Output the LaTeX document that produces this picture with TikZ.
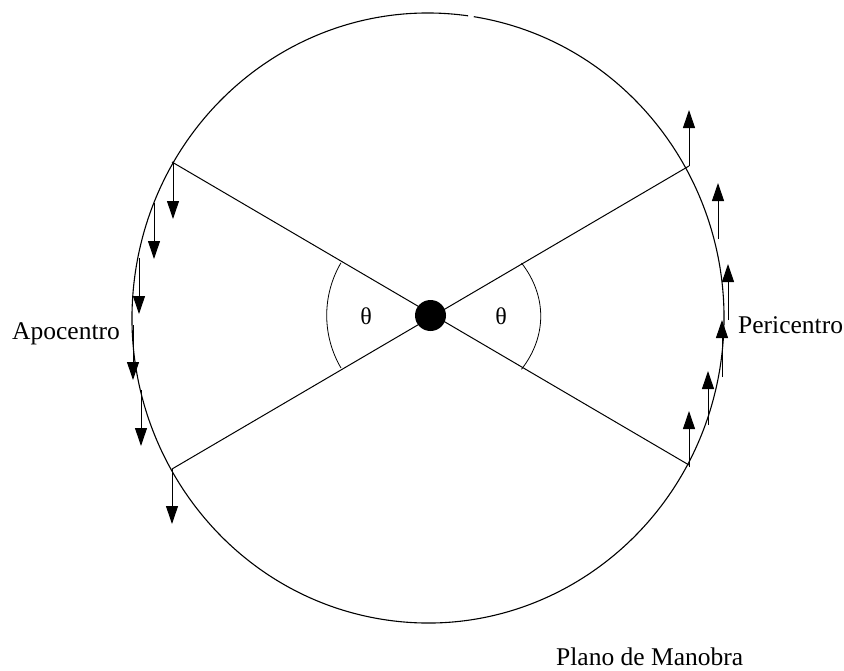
\documentclass[tikz,border=0pt]{standalone}
\usepackage{fontspec}
\setmainfont{Liberation Serif}
\usetikzlibrary{arrows.meta}
\tikzset{
  orbit/.style={line width=1.1pt},
  radial/.style={line width=1pt},
  anglearc/.style={line width=0.8pt},
  vel/.style={line width=1pt,-{Triangle[length=18pt,width=12pt]}},
  lbl/.style={font=\fontsize{25.5pt}{30pt}\selectfont,inner sep=0pt,anchor=base west},
  th/.style={font=\fontsize{24pt}{28pt}\selectfont,inner sep=0pt}
}
\begin{document}
\begin{tikzpicture}[x=1pt,y=-1pt]
\useasboundingbox (0,0) rectangle (844,670);
% orbit (small gap near top)
\draw[orbit] (428,318) ++(278.9:296 and 305) arc[start angle=278.9,end angle=637.8,x radius=296,y radius=305];
% radial lines
\coordinate (A) at (172,162);
\coordinate (B) at (689,465);
\coordinate (C) at (172,469);
\coordinate (D) at (689,166);
\coordinate (O) at (430.5,315.5);
\draw[radial] (A) -- (B);
\draw[radial] (C) -- (D);
% angle arcs
\coordinate (la) at (341,368);
\coordinate (ra) at (521.5,263);
\draw[anglearc] (la) arc[start angle=149.6,end angle=210.4,radius=104];
\draw[anglearc] (ra) arc[start angle=-30.4,end angle=30.4,x radius=140,y radius=105];
\node[th] (t1) at (366,316) {θ};
\node[th] (t2) at (501,316) {θ};
% central body
\node[circle,fill=black,minimum size=31pt,inner sep=0pt] (body) at (O) {};
% apocentre velocity arrows (down)
\coordinate (l1s) at (173,163); \coordinate (l1e) at (173,219);
\coordinate (l2s) at (154,203); \coordinate (l2e) at (154,259);
\coordinate (l3s) at (139,258); \coordinate (l3e) at (139,314);
\coordinate (l4s) at (133,325); \coordinate (l4e) at (133,380);
\coordinate (l5s) at (141,390); \coordinate (l5e) at (141,446);
\coordinate (l6s) at (172,469); \coordinate (l6e) at (172,524);
\foreach \i in {1,...,6} {\draw[vel] (l\i s) -- (l\i e);}
% pericentre velocity arrows (up)
\coordinate (r1s) at (689,166); \coordinate (r1e) at (689,110);
\coordinate (r2s) at (718,239); \coordinate (r2e) at (718,183);
\coordinate (r3s) at (728,320); \coordinate (r3e) at (728,264);
\coordinate (r4s) at (722,377); \coordinate (r4e) at (722,320);
\coordinate (r5s) at (708,425); \coordinate (r5e) at (708,371);
\coordinate (r6s) at (689,467); \coordinate (r6e) at (689,411);
\foreach \i in {1,...,6} {\draw[vel] (r\i s) -- (r\i e);}
% labels
\node[lbl] (apo) at (12,339) {Apocentro};
\node[lbl] (peri) at (738,333) {Pericentro};
\node[lbl] (plano) at (556,665) {Plano de Manobra};
\end{tikzpicture}
\end{document}
